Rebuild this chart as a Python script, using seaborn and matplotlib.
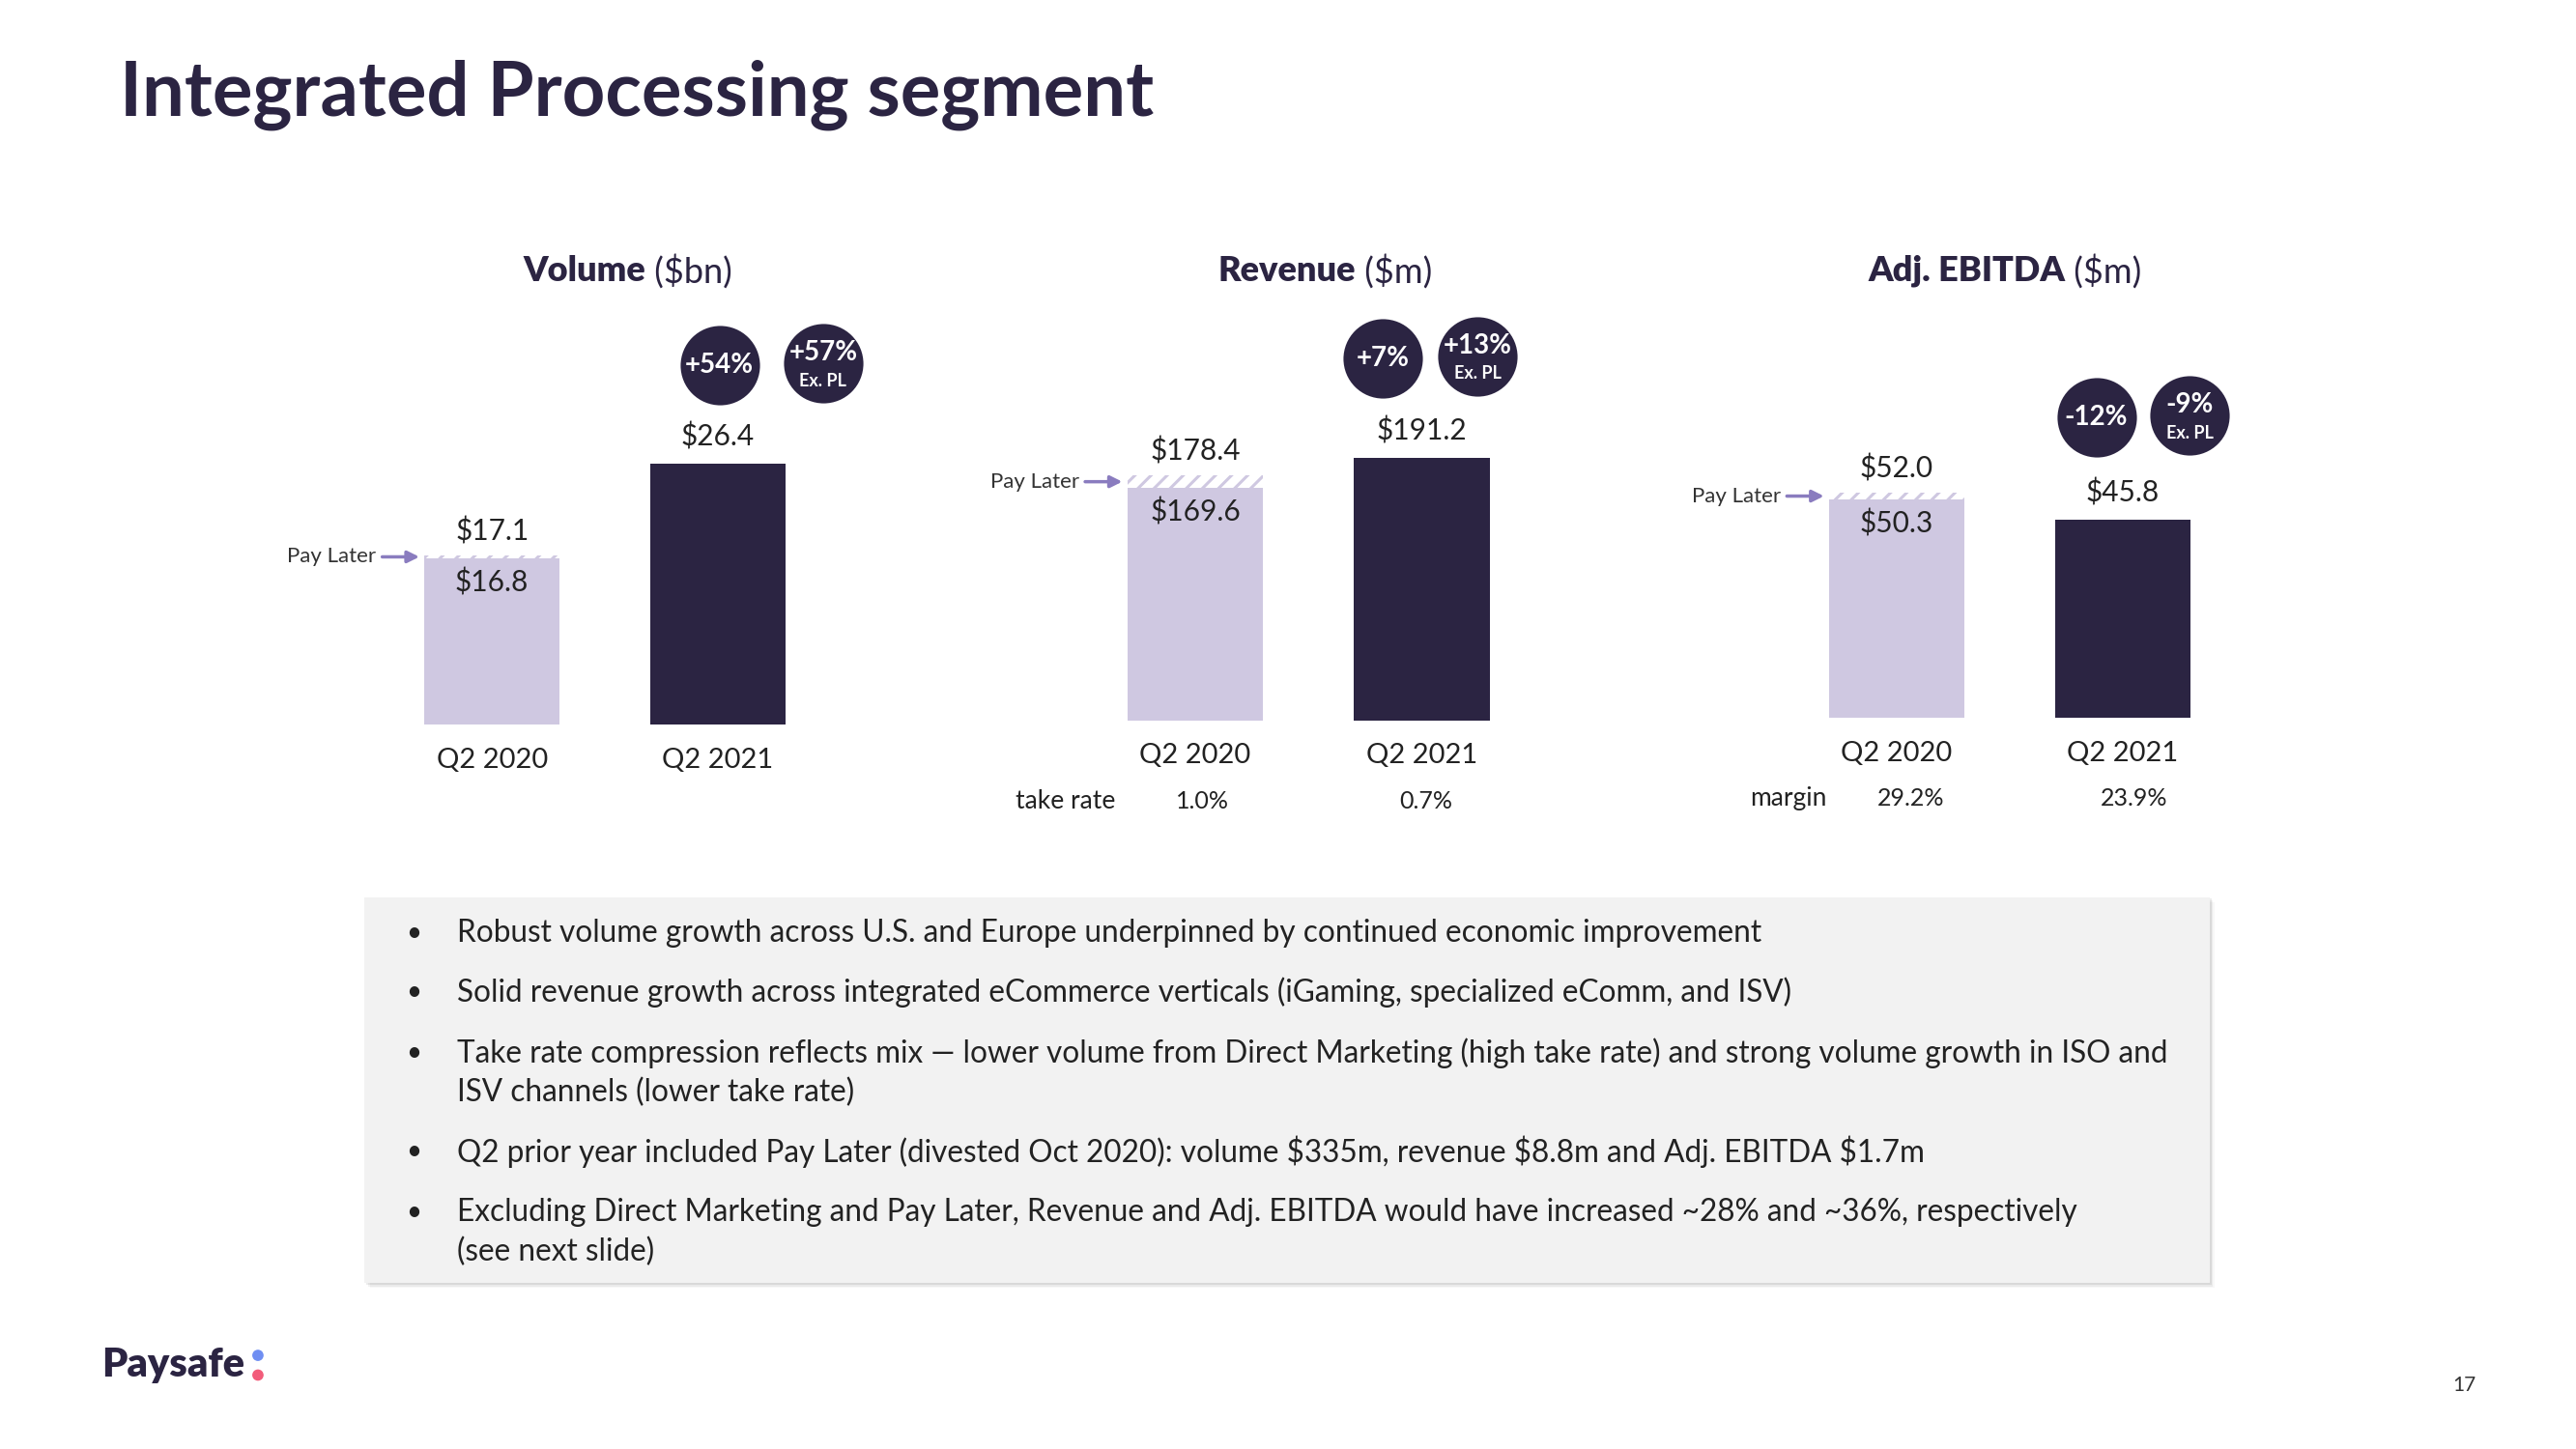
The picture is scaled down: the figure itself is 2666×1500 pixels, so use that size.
import matplotlib
matplotlib.use("Agg")
import matplotlib.pyplot as plt
import matplotlib.transforms as mtransforms
from matplotlib.patches import Rectangle
import seaborn as sns

# ---- data ----
quarters = ["Q2 2020", "Q2 2021"]
volume = [16.8, 26.4]
volume_with_pl = [17.1, 26.4]
revenue = [169.6, 191.2]
revenue_with_pl = [178.4, 191.2]
ebitda = [50.3, 45.8]
ebitda_with_pl = [52.0, 45.8]
volume_growth = ["+54%", "+57%"]
revenue_growth = ["+7%", "+13%"]
ebitda_growth = ["-12%", "-9%"]
take_rate = ["1.0%", "0.7%"]
margin = ["29.2%", "23.9%"]
bullets = [
    "Robust volume growth across U.S. and Europe underpinned by continued economic improvement",
    "Solid revenue growth across integrated eCommerce verticals (iGaming, specialized eComm, and ISV)",
    "Take rate compression reflects mix \u2014 lower volume from Direct Marketing (high take rate) and strong volume growth in ISO and\nISV channels (lower take rate)",
    "Q2 prior year included Pay Later (divested Oct 2020): volume $335m, revenue $8.8m and Adj. EBITDA $1.7m",
    "Excluding Direct Marketing and Pay Later, Revenue and Adj. EBITDA would have increased ~28% and ~36%, respectively\n(see next slide)",
]

sns.set_theme(style="white")
plt.rcParams["font.family"] = ["Lato", "DejaVu Sans"]
plt.rcParams["hatch.linewidth"] = 2.2

DARK = "#2b2442"
LAV = "#cfc8e1"
ARROW = "#8a7cbf"
TXT = "#222222"

W, H = 1568, 882          # layout grid
fig = plt.figure(figsize=(26.66, 15), dpi=100)
bg = fig.add_axes([0, 0, 1, 1])
bg.set_xlim(0, W)
bg.set_ylim(H, 0)
bg.axis("off")

PT = 2666 / W * 0.72      # points per layout px


def panel(c0, c1, base, k, vals, totals, growth, badges, title, unit, split_x,
          foot_label=None, foot_vals=None, foot_dx=(0, 0), foot_lab_dx=0):
    d = c1 - c0
    ax = fig.add_axes([(c0 - d / 2) / W, 1 - base / H, 2 * d / W, 240 / H])
    # total incl. Pay Later (hatched), then the ex-PL bar on top
    sns.barplot(x=quarters, y=totals, color="white", saturation=1, width=0.6,
                hatch="//", edgecolor=LAV, linewidth=0, ax=ax)
    sns.barplot(x=quarters, y=vals, hue=quarters, palette=[LAV, DARK], saturation=1,
                width=0.6, linewidth=0, legend=False, ax=ax)

    for i in range(2):
        if totals[i] > vals[i]:
            ax.annotate(f"${totals[i]:.1f}", (i, totals[i]), xytext=(0, 18),
                        textcoords="offset points", ha="center", va="center",
                        fontsize=21.5, color=TXT)
            ax.annotate(f"${vals[i]:.1f}", (i, vals[i]), xytext=(0, -18),
                        textcoords="offset points", ha="center", va="center",
                        fontsize=21.5, color=TXT)
            ax.annotate("Pay Later", (-0.3 - 3 / d, (totals[i] + vals[i]) / 2),
                        xytext=(-32, 0), textcoords="offset points", ha="right",
                        va="center", fontsize=16, color="#333333",
                        arrowprops=dict(arrowstyle="-|>", color=ARROW, lw=2.5,
                                        shrinkA=2, shrinkB=0, relpos=(1, 0.5),
                                        mutation_scale=18))
        else:
            ax.annotate(f"${vals[i]:.1f}", (i, vals[i]), xytext=(0, 20),
                        textcoords="offset points", ha="center", va="center",
                        fontsize=21.5, color=TXT)

    # growth badges
    for j, (dx, dy) in enumerate(badges):
        tr = mtransforms.offset_copy(ax.transData, fig=fig, x=dx * PT, y=dy * PT, units="points")
        ax.scatter([1], [vals[1]], s=3500, color=DARK, linewidths=0, transform=tr,
                   clip_on=False, zorder=5)
        if j == 0:
            ax.annotate(growth[0], (1, vals[1]), xytext=(dx * PT, dy * PT),
                        textcoords="offset points", ha="center", va="center",
                        fontsize=20, fontweight="bold", color="white", zorder=6)
        else:
            ax.annotate(growth[1], (1, vals[1]), xytext=(dx * PT, dy * PT + 8),
                        textcoords="offset points", ha="center", va="center",
                        fontsize=20, fontweight="bold", color="white", zorder=6)
            ax.annotate("Ex. PL", (1, vals[1]), xytext=(dx * PT, dy * PT - 13),
                        textcoords="offset points", ha="center", va="center",
                        fontsize=13, fontweight="bold", color="white", zorder=6)

    if foot_label:
        ax.annotate(foot_label, (0, 0), xytext=(foot_lab_dx * PT, -49 * PT),
                    textcoords="offset points", ha="right", va="center",
                    fontsize=19, color=TXT, annotation_clip=False)
        for i in range(2):
            ax.annotate(foot_vals[i], (i, 0), xytext=(foot_dx[i] * PT, -49 * PT),
                        textcoords="offset points", ha="center", va="center",
                        fontsize=18, color=TXT, annotation_clip=False)

    ax.set_xlim(-0.5, 1.5)
    ax.set_ylim(0, 240 / k)
    ax.set_facecolor("none")
    ax.set_yticks([])
    ax.set_xlabel("")
    ax.set_ylabel("")
    ax.tick_params(axis="x", length=0, pad=17, labelsize=21, labelcolor=TXT)
    sns.despine(ax=ax, left=True, bottom=True)

    bg.text(split_x, 165, title, ha="right", va="center", fontsize=26,
            fontweight="heavy", color=DARK)
    bg.text(split_x, 165, " " + unit, ha="left", va="center", fontsize=26, color=DARK)


panel(299.5, 437, 441, 6.02, volume, volume_with_pl, volume_growth,
      [(1, 60), (64, 61)], "Volume", "($bn)", 393)
panel(727.5, 865.5, 438.5, 0.835, revenue, revenue_with_pl, revenue_growth,
      [(-24, 61), (34, 62)], "Revenue", "($m)", 825,
      "take rate", take_rate, (4.5, 2.5), -48.5)
panel(1154.5, 1292, 437, 2.64, ebitda, ebitda_with_pl, ebitda_growth,
      [(-16, 62), (41, 63)], "Adj. EBITDA", "($m)", 1257,
      "margin", margin, (8.5, 7), -42.5)

# title
bg.text(73, 58, "Integrated Processing segment", ha="left", va="center",
        fontsize=56, fontweight="bold", color=DARK)

# commentary box with soft shadow
for off, a in [(6, 0.03), (4, 0.05), (2, 0.07)]:
    bg.add_patch(Rectangle((222 + off / 2, 546 + off / 2), 1123, 235, color="black",
                           alpha=a, lw=0, zorder=1))
bg.add_patch(Rectangle((222, 546), 1123, 235, color="#f2f2f2", lw=0, zorder=2))

starts = [568, 604, 641, 701, 738]
for y0, b in zip(starts, bullets):
    bg.text(252, y0, "\u2022", ha="center", va="center", fontsize=20, color=TXT, zorder=3)
    for n, line in enumerate(b.split("\n")):
        bg.text(278, y0 + 24 * n, line, ha="left", va="center", fontsize=22.7,
                color=TXT, zorder=3)

# logo and page number
bg.text(62, 831, "Paysafe", ha="left", va="center", fontsize=30,
        fontweight="heavy", color=DARK)
bg.scatter([157, 157], [825, 837], s=55, color=["#6f8ef2", "#f25c7a"], zorder=3)
bg.text(1500, 843, "17", ha="center", va="center", fontsize=15, color="#333333")

fig.savefig("out.png", dpi=100, facecolor="white")
